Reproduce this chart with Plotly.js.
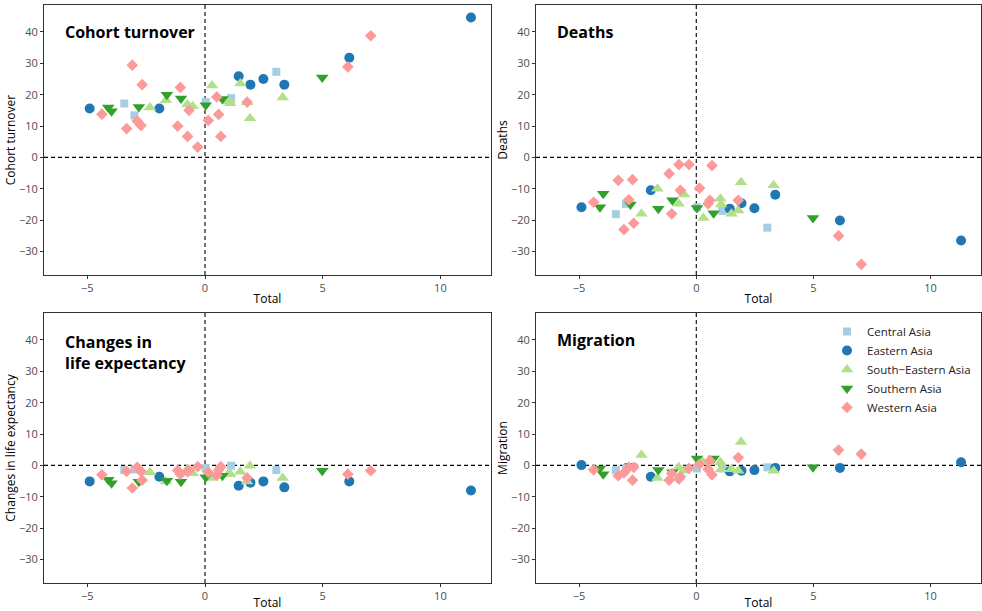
<!DOCTYPE html>
<html>
<head>
<meta charset="utf-8">
<script src="https://cdn.plot.ly/plotly-3.0.1.min.js"></script>
<style>html,body{margin:0;padding:0;background:#fff;}#chart{width:982px;height:611px;}</style>
</head>
<body>
<div id="chart"></div>
<script>
// ---------- data ----------
const regions = ["Central Asia", "Eastern Asia", "South\u2212Eastern Asia", "Southern Asia", "Western Asia"];
const panelTitles = ["Cohort turnover", "Deaths", "Changes in<br>life expectancy", "Migration"];
const yTitles = ["Cohort turnover", "Deaths", "Changes in life expectancy", "Migration"];
const xTickVals = [-5, 0, 5, 10];
const yTickVals = [-30, -20, -10, 0, 10, 20, 30, 40];

const centralTotal  = [-3.43, -3.00, 0.03, 1.11, 3.03];
const centralCohort = [17.2, 13.4, 17.7, 18.9, 27.3];
const centralDeaths = [-18.1, -14.8, -15.9, -17.1, -22.4];
const centralLE     = [-1.5, -1.3, -0.9, -0.1, -1.5];
const centralMig    = [-1.5, -0.8, -1.0, -1.0, -0.6];

const easternTotal  = [-4.90, -1.94, 1.43, 1.93, 2.48, 3.37, 6.13, 11.30];
const easternCohort = [15.6, 15.6, 25.9, 23.2, 25.0, 23.2, 31.8, 44.6];
const easternDeaths = [-15.9, -10.5, -16.4, -14.6, -16.2, -11.9, -20.1, -26.5];
const easternLE     = [-5.1, -3.6, -6.5, -5.5, -5.1, -7.0, -5.1, -8.0];
const easternMig    = [0.1, -3.6, -1.9, -1.7, -1.5, -0.8, -0.8, 1.0];

const seTotal  = [-2.34, -1.66, -0.75, -0.52, 0.30, 1.03, 1.06, 1.50, 1.79, 1.91, 3.30];
const seCohort = [15.9, 18.2, 16.9, 16.3, 22.9, 17.9, 17.3, 23.6, 17.6, 12.5, 19.1];
const seDeaths = [-18.0, -10.0, -14.8, -11.8, -19.3, -13.2, -15.0, -18.0, -16.9, -7.9, -8.9];
const seLE     = [-2.2, -5.1, -1.2, -2.5, -4.0, -2.4, -2.8, -2.0, -5.1, -0.1, -4.0];
const seMig    = [3.3, -4.0, -0.6, -1.7, 1.0, 1.0, -1.2, -1.2, -1.7, 7.5, -1.7];

const southernTotal  = [-4.11, -3.97, -2.81, -1.62, -1.02, 0.03, 0.74, 4.98];
const southernCohort = [15.9, 14.7, 16.1, 20.0, 18.8, 16.6, 18.6, 25.5];
const southernDeaths = [-15.9, -11.6, -15.0, -16.4, -13.7, -16.1, -17.8, -19.3];
const southernLE     = [-4.6, -5.7, -5.2, -4.9, -5.2, -3.8, -3.3, -1.7];
const southernMig    = [-1.0, -2.8, -0.1, -1.5, -2.2, 2.2, 2.2, -0.6];

const westernTotal  = [-4.38, -3.33, -3.09, -2.88, -2.72, -2.67, -1.16, -1.05, -0.74, -0.68, -0.31, 0.14, 0.50, 0.58, 0.67, 1.79, 6.07, 7.04];
const westernCohort = [13.8, 9.2, 29.4, 11.6, 10.2, 23.2, 10.0, 22.3, 6.7, 15.0, 3.3, 11.8, 19.3, 13.7, 6.7, 17.6, 28.9, 38.8];
const westernDeaths = [-14.3, -7.3, -23.0, -13.5, -7.1, -21.0, -5.2, -18.0, -2.3, -10.5, -2.3, -9.8, -14.8, -13.7, -2.6, -13.7, -25.0, -34.1];
const westernLE     = [-3.0, -1.9, -7.2, -0.6, -1.9, -4.7, -1.6, -2.8, -2.0, -1.5, -0.4, -2.2, -3.1, -1.5, -0.4, -4.0, -2.8, -1.7];
const westernMig    = [-1.4, -3.3, -2.4, -0.6, -4.7, -0.6, -4.7, -2.6, -4.3, -3.6, -0.9, 0.4, -1.2, 1.5, -3.0, 2.5, 4.9, 3.6];

// ---------- styling ----------
const colors  = ["#a6cee3", "#1f78b4", "#b2df8a", "#33a02c", "#fb9a99"];
const symbols = ["square", "circle", "triangle-up", "triangle-down", "diamond"];
const sizes   = [8, 10, 11, 11, 9];
const FONT = "Open Sans, Noto Sans, sans-serif";

const regionData = [
  [centralTotal, centralCohort, centralDeaths, centralLE, centralMig],
  [easternTotal, easternCohort, easternDeaths, easternLE, easternMig],
  [seTotal, seCohort, seDeaths, seLE, seMig],
  [southernTotal, southernCohort, southernDeaths, southernLE, southernMig],
  [westernTotal, westernCohort, westernDeaths, westernLE, westernMig]
];

const traces = [];
for (let p = 0; p < 4; p++) {
  const sfx = p === 0 ? "" : String(p + 1);
  regionData.forEach((rd, r) => {
    traces.push({
      type: "scatter", mode: "markers",
      x: rd[0], y: rd[p + 1],
      xaxis: "x" + sfx, yaxis: "y" + sfx,
      name: regions[r], legendgroup: regions[r], showlegend: p === 0,
      marker: {symbol: symbols[r], color: colors[r], size: sizes[r], line: {width: 0}},
      hoverinfo: "x+y+name"
    });
  });
}

const L = 44, R = 1, T = 5, B = 28, W = 982, H = 611;
const pw = W - L - R, ph = H - T - B;
const xDomL = [0, (491 - L) / pw], xDomR = [(536 - L) / pw, 1];
const yDomT = [(583 - 275) / ph, 1], yDomB = [0, (583 - 313) / ph];

function xaxis(domain, anchor) {
  return {
    domain: domain, anchor: anchor, range: [-6.84, 12.15],
    tickmode: "array", tickvals: xTickVals,
    showline: true, mirror: true, linecolor: "#333333", linewidth: 1,
    ticks: "outside", ticklen: 3, tickwidth: 1, tickcolor: "#333333",
    tickfont: {family: FONT, size: 11, color: "#4d4d4d"},
    showgrid: false, zeroline: false, automargin: false,
    title: {text: "Total", font: {family: FONT, size: 12, color: "#000"}, standoff: 0}
  };
}
function yaxis(domain, anchor, title) {
  return {
    domain: domain, anchor: anchor, range: [-37.5, 48.6],
    tickmode: "array", tickvals: yTickVals,
    showline: true, mirror: true, linecolor: "#333333", linewidth: 1,
    ticks: "outside", ticklen: 3, tickwidth: 1, tickcolor: "#333333",
    tickfont: {family: FONT, size: 11, color: "#4d4d4d"},
    showgrid: false, zeroline: false, automargin: false,
    title: {text: title, font: {family: FONT, size: 12, color: "#000"}, standoff: 0}
  };
}

const layout = {
  width: W, height: H,
  margin: {l: L, r: R, t: T, b: B},
  paper_bgcolor: "#fff", plot_bgcolor: "#fff",
  font: {family: FONT},
  xaxis: xaxis(xDomL, "y"), yaxis: yaxis(yDomT, "x", yTitles[0]),
  xaxis2: xaxis(xDomR, "y2"), yaxis2: yaxis(yDomT, "x2", yTitles[1]),
  xaxis3: xaxis(xDomL, "y3"), yaxis3: yaxis(yDomB, "x3", yTitles[2]),
  xaxis4: xaxis(xDomR, "y4"), yaxis4: yaxis(yDomB, "x4", yTitles[3]),
  showlegend: true,
  legend: {
    x: (827 - L) / pw, xanchor: "left", y: (583 - 317) / ph, yanchor: "top",
    bgcolor: "rgba(0,0,0,0)", font: {family: FONT, size: 11.5, color: "#222"},
    itemwidth: 30, tracegroupgap: 0
  },
  shapes: [], annotations: []
};

for (let p = 0; p < 4; p++) {
  const sfx = p === 0 ? "" : String(p + 1);
  layout.shapes.push({type: "line", xref: "x" + sfx, yref: "y" + sfx + " domain", x0: 0, x1: 0, y0: 0, y1: 1,
    line: {color: "#000", width: 1.1, dash: "4px,3px"}, layer: "below"});
  layout.shapes.push({type: "line", xref: "x" + sfx + " domain", yref: "y" + sfx, x0: 0, x1: 1, y0: 0, y1: 0,
    line: {color: "#000", width: 1.1, dash: "4px,3px"}, layer: "below"});
  const twoLine = panelTitles[p].indexOf("<br>") >= 0;
  layout.annotations.push({
    xref: "x" + sfx, yref: "y" + sfx, x: -6.05, y: twoLine ? 36 : 40,
    xanchor: "left", yanchor: "middle", align: "left", showarrow: false,
    text: "<b>" + panelTitles[p] + "</b>",
    font: {family: FONT, size: 16, color: "#000"}
  });
}

Plotly.newPlot("chart", traces, layout, {displayModeBar: false, staticPlot: true});
</script>
</body>
</html>
